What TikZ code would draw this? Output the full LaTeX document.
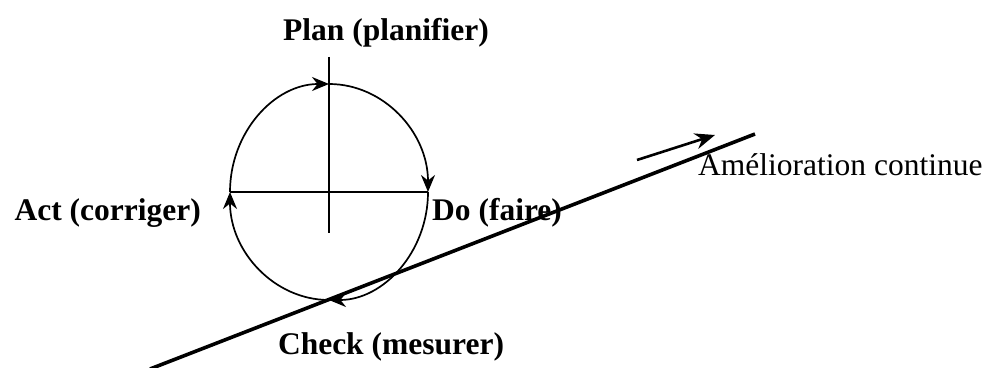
\documentclass[tikz,border=0pt]{standalone}
\usepackage{fontspec}
\setmainfont{Liberation Serif}
\usetikzlibrary{arrows.meta, calc}

\begin{document}
\begin{tikzpicture}[x=1pt, y=1pt,
  phase/.style={font=\fontsize{31.5}{36}\selectfont\bfseries, inner sep=0pt},
  cyc/.style={line width=1.7pt, -{Stealth[length=17pt,width=14pt]}}]
  \useasboundingbox (0,0) rectangle (993,367);
  % centre of the PDCA wheel
  \coordinate (C) at (329,175);
  % cross inside the wheel
  \draw[line width=1.7pt] (329,310) -- (329,134);
  \draw[line width=1.7pt] (230,175) -- (428,175);
  % wheel, turning clockwise
  \draw[cyc] ($(C)+(-99,0)$) arc[start angle=180, end angle=90, x radius=99, y radius=108];
  \draw[cyc] ($(C)+(0,108)$) arc[start angle=90, end angle=0, x radius=99, y radius=108];
  \draw[cyc] ($(C)+(99,0)$) arc[start angle=0, end angle=-90, x radius=99, y radius=108];
  \draw[cyc] ($(C)+(0,-108)$) arc[start angle=270, end angle=180, x radius=99, y radius=108];
  % slope of the improvement
  \coordinate (slopeA) at (150,-2);
  \coordinate (slopeB) at (755,233);
  \draw[line width=3.6pt] (slopeA) -- (slopeB);
  \coordinate (upA) at (637,207);
  \coordinate (upB) at (715,232);
  \draw[-{Stealth[length=20pt,width=16pt]}, line width=2.6pt] (upA) -- (upB);
  % phase labels
  \node[phase] (plan) at (386,334) {Plan (planifier)};
  \node[phase, anchor=east] (act) at (201,154) {Act (corriger)};
  \node[phase, anchor=west] (do) at (432,154) {Do (faire)};
  \node[phase] (check) at (391,20) {Check (mesurer)};
  \node[font=\fontsize{31.5}{36}\selectfont, inner sep=0pt, anchor=west] (amelio) at (698,202) {Amélioration continue};
\end{tikzpicture}
\end{document}
